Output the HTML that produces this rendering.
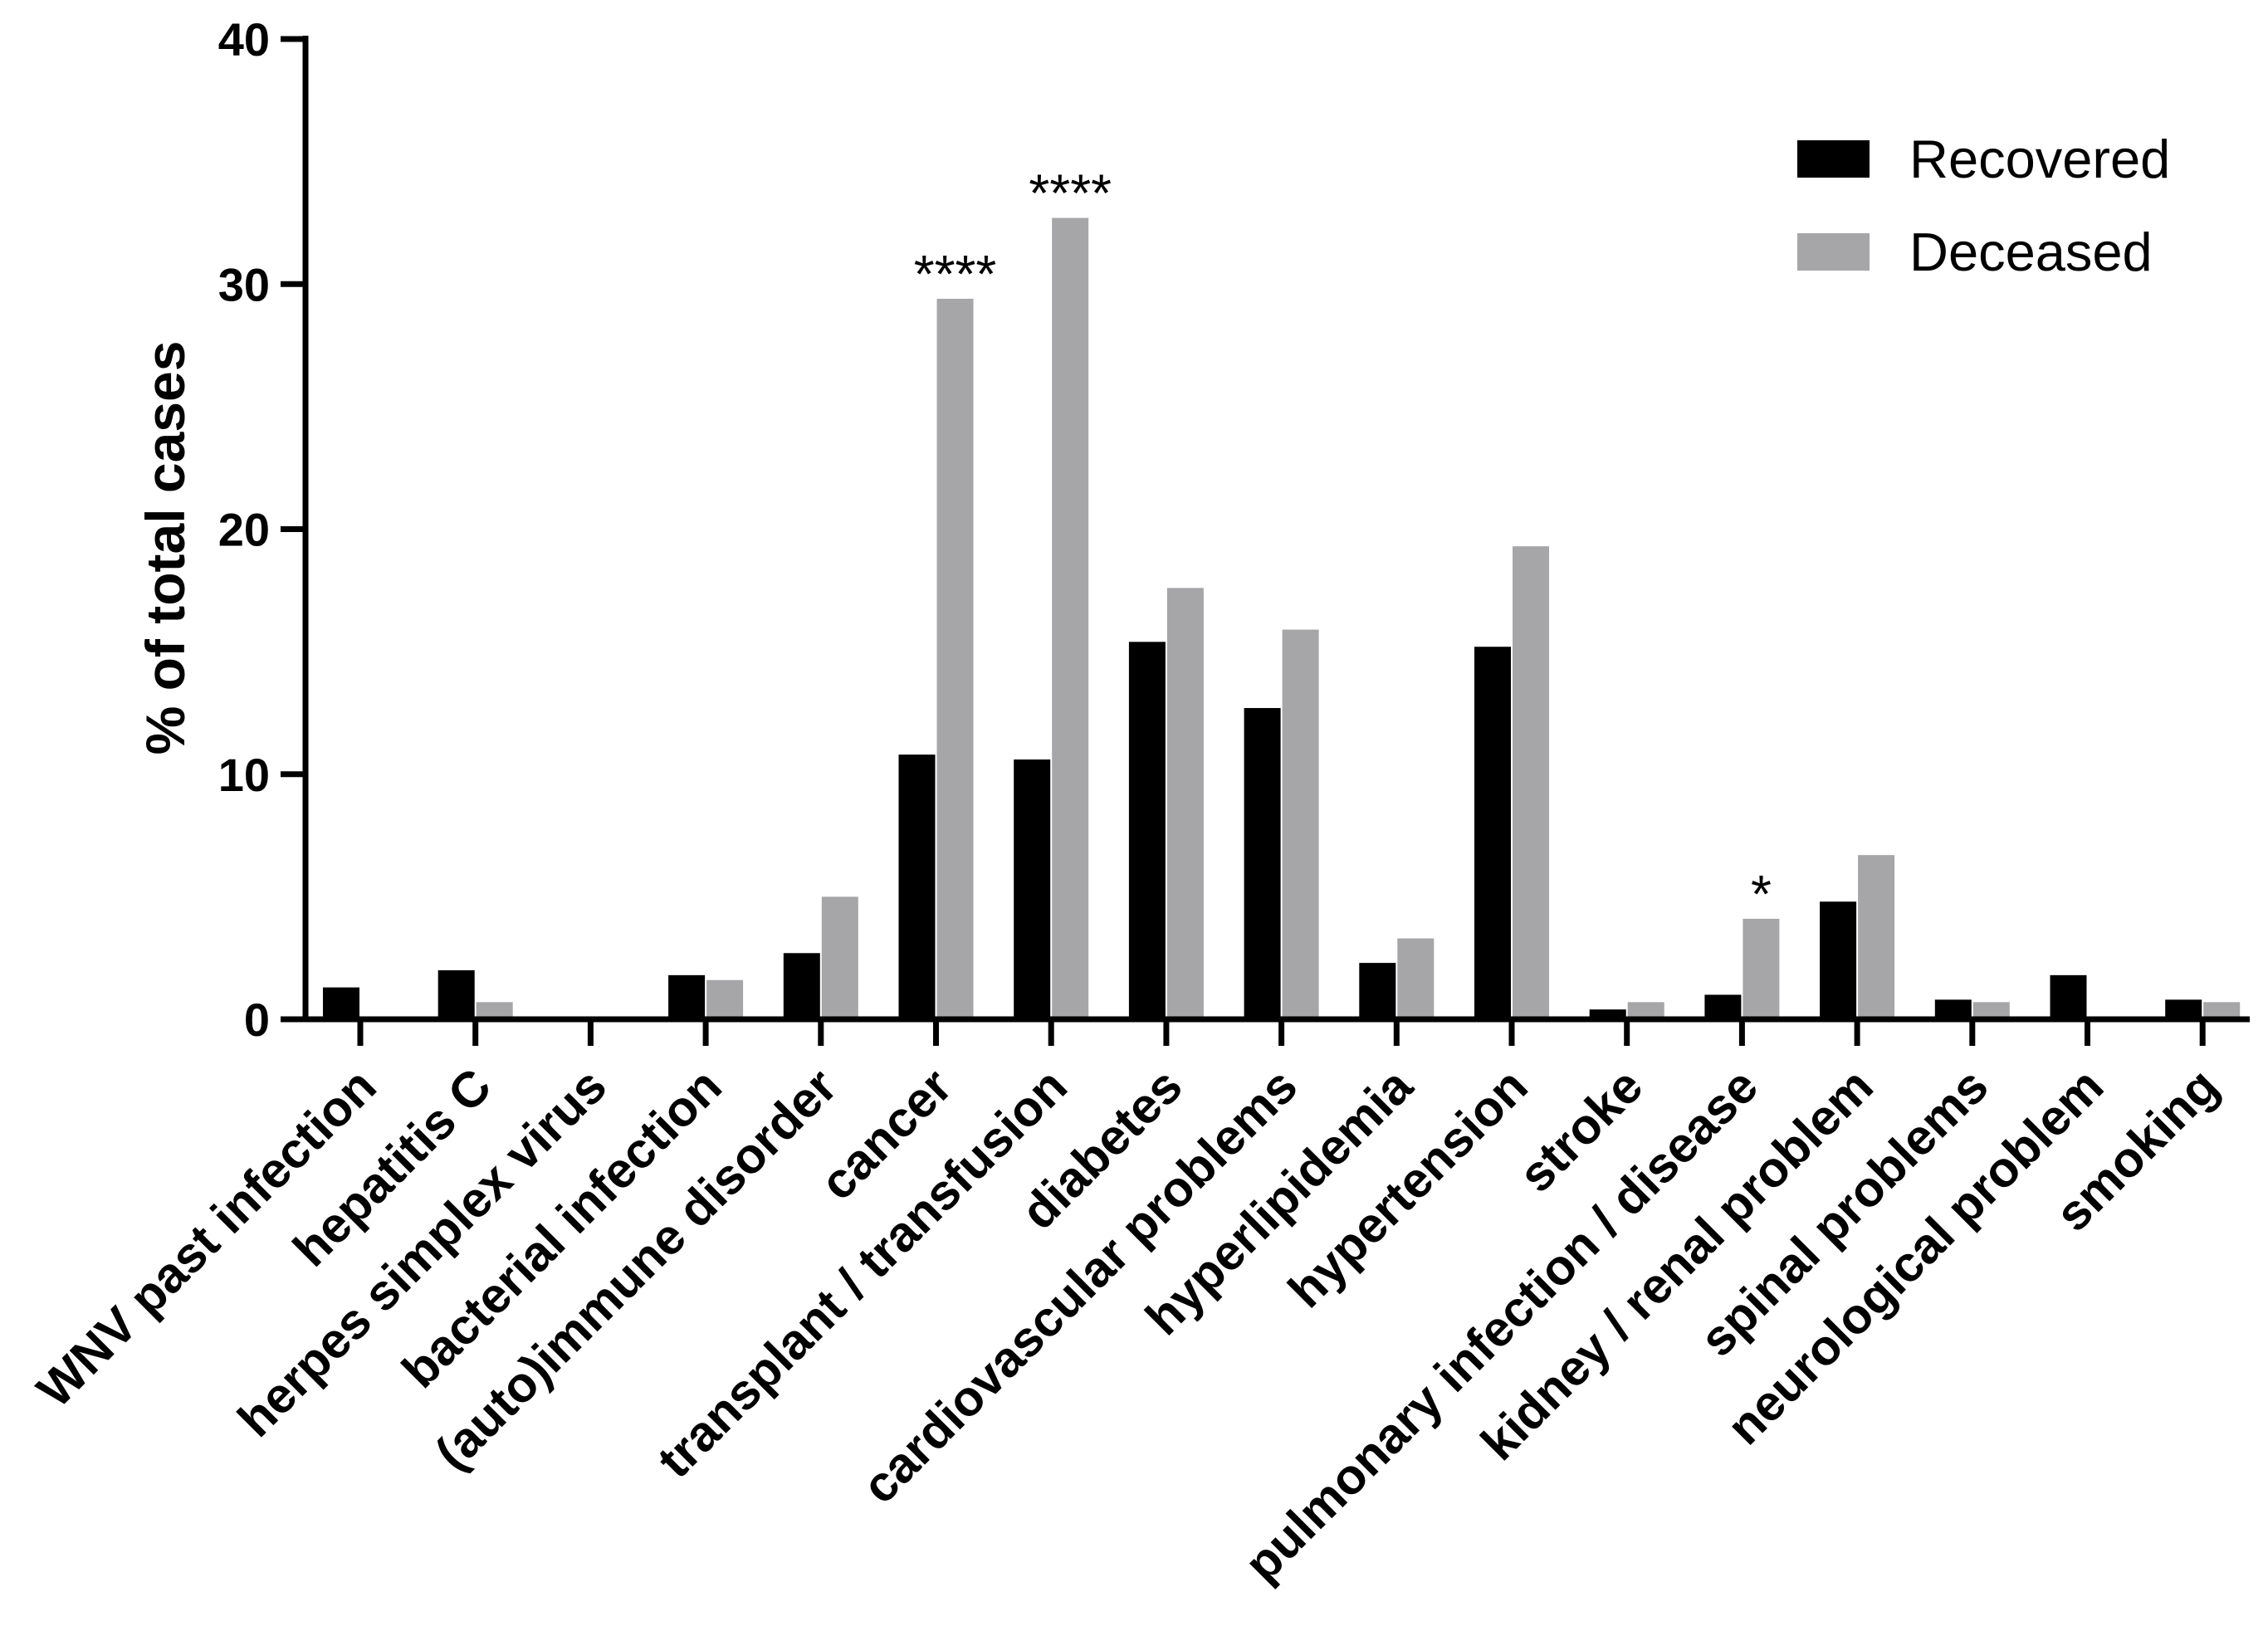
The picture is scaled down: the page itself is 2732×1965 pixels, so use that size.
<!DOCTYPE html>
<html><head><meta charset="utf-8"><style>
html,body{margin:0;padding:0;background:#fff}
svg{display:block;font-family:"Liberation Sans",Arial,sans-serif}
</style></head><body>
<svg id="chart" width="2732" height="1965" viewBox="0 0 2732 1965">
<g id="plot"></g>
<text x="0" y="0" transform="translate(222,660) rotate(-90)" text-anchor="middle" font-size="66" font-weight="bold">% of total cases</text>
<g>
<rect x="2165" y="169" width="87" height="45" fill="#000"/>
<text x="2300" y="214" font-size="65">Recovered</text>
<rect x="2165" y="281" width="87" height="45" fill="#a6a6a8"/>
<text x="2300" y="326" font-size="65">Deceased</text>
</g>
</svg>
<script>
const categories=["WNV past infection","hepatitis C","herpes simplex virus","bacterial infection","(auto)immune disorder","cancer","transplant / transfusion","diabetes","cardiovascular problems","hyperlipidemia","hypertension","stroke","pulmonary infection / disease","kidney / renal problem","spinal problems","neurological problem","smoking"];
const recovered=[1.3,2.0,0,1.8,2.7,10.8,10.6,15.4,12.7,2.3,15.2,0.4,1.0,4.8,0.8,1.8,0.8];
const deceased=[0,0.7,0,1.6,5.0,29.4,32.7,17.6,15.9,3.3,19.3,0.7,4.1,6.7,0.7,0,0.7];
const significance=["","","","","","****","****","","","","","","*","","","",""];
const yTicks=[0,10,20,30,40];
const NS="http://www.w3.org/2000/svg";
const g=document.getElementById('plot');
const x0=368,yZero=1228,yTop=47,yMax=40,firstTick=434,step=138.7,bw=44;
const y=v=>yZero-(v/yMax)*(yZero-yTop);
const xc=i=>firstTick+i*step;
function mk(t,a){const e=document.createElementNS(NS,t);for(const k in a)e.setAttribute(k,a[k]);g.appendChild(e);return e;}
categories.forEach((c,i)=>{
  const r=mk('rect',{x:xc(i)-bw-1,y:y(recovered[i]),width:bw,height:yZero-y(recovered[i]),fill:'#000'});
  
  
  const d=mk('rect',{x:xc(i)+1,y:y(deceased[i]),width:bw,height:yZero-y(deceased[i]),fill:'#a6a6a8'});
  
  
  if(significance[i]){
    const s=mk('text',{x:xc(i)+1+bw/2,y:y(deceased[i])-8,'text-anchor':'middle','font-size':64});
    s.textContent=significance[i];
    
    
  }
  const t=mk('line',{x1:xc(i),x2:xc(i),y1:yZero,y2:1260,stroke:'#000','stroke-width':7});
  
  
  const l=mk('text',{x:0,y:0,transform:`translate(${xc(i)-8},${1282}) rotate(-45)`,'text-anchor':'end','font-size':60,'font-weight':'bold','dominant-baseline':'hanging'});
  l.textContent=c;
  
  
});
yTicks.forEach(v=>{
  const t=mk('line',{x1:338,x2:x0,y1:y(v),y2:y(v),stroke:'#000','stroke-width':7});
  
  
  const l=mk('text',{x:325,y:y(v)+20,'text-anchor':'end','font-size':56,'font-weight':'bold'});
  l.textContent=v;
  
  
});
const ya=mk('line',{x1:x0,x2:x0,y1:yTop-4,y2:yZero+3,stroke:'#000','stroke-width':7});


const xa=mk('line',{x1:x0-3,x2:2710,y1:yZero,y2:yZero,stroke:'#000','stroke-width':7});


</script>
</body></html>
